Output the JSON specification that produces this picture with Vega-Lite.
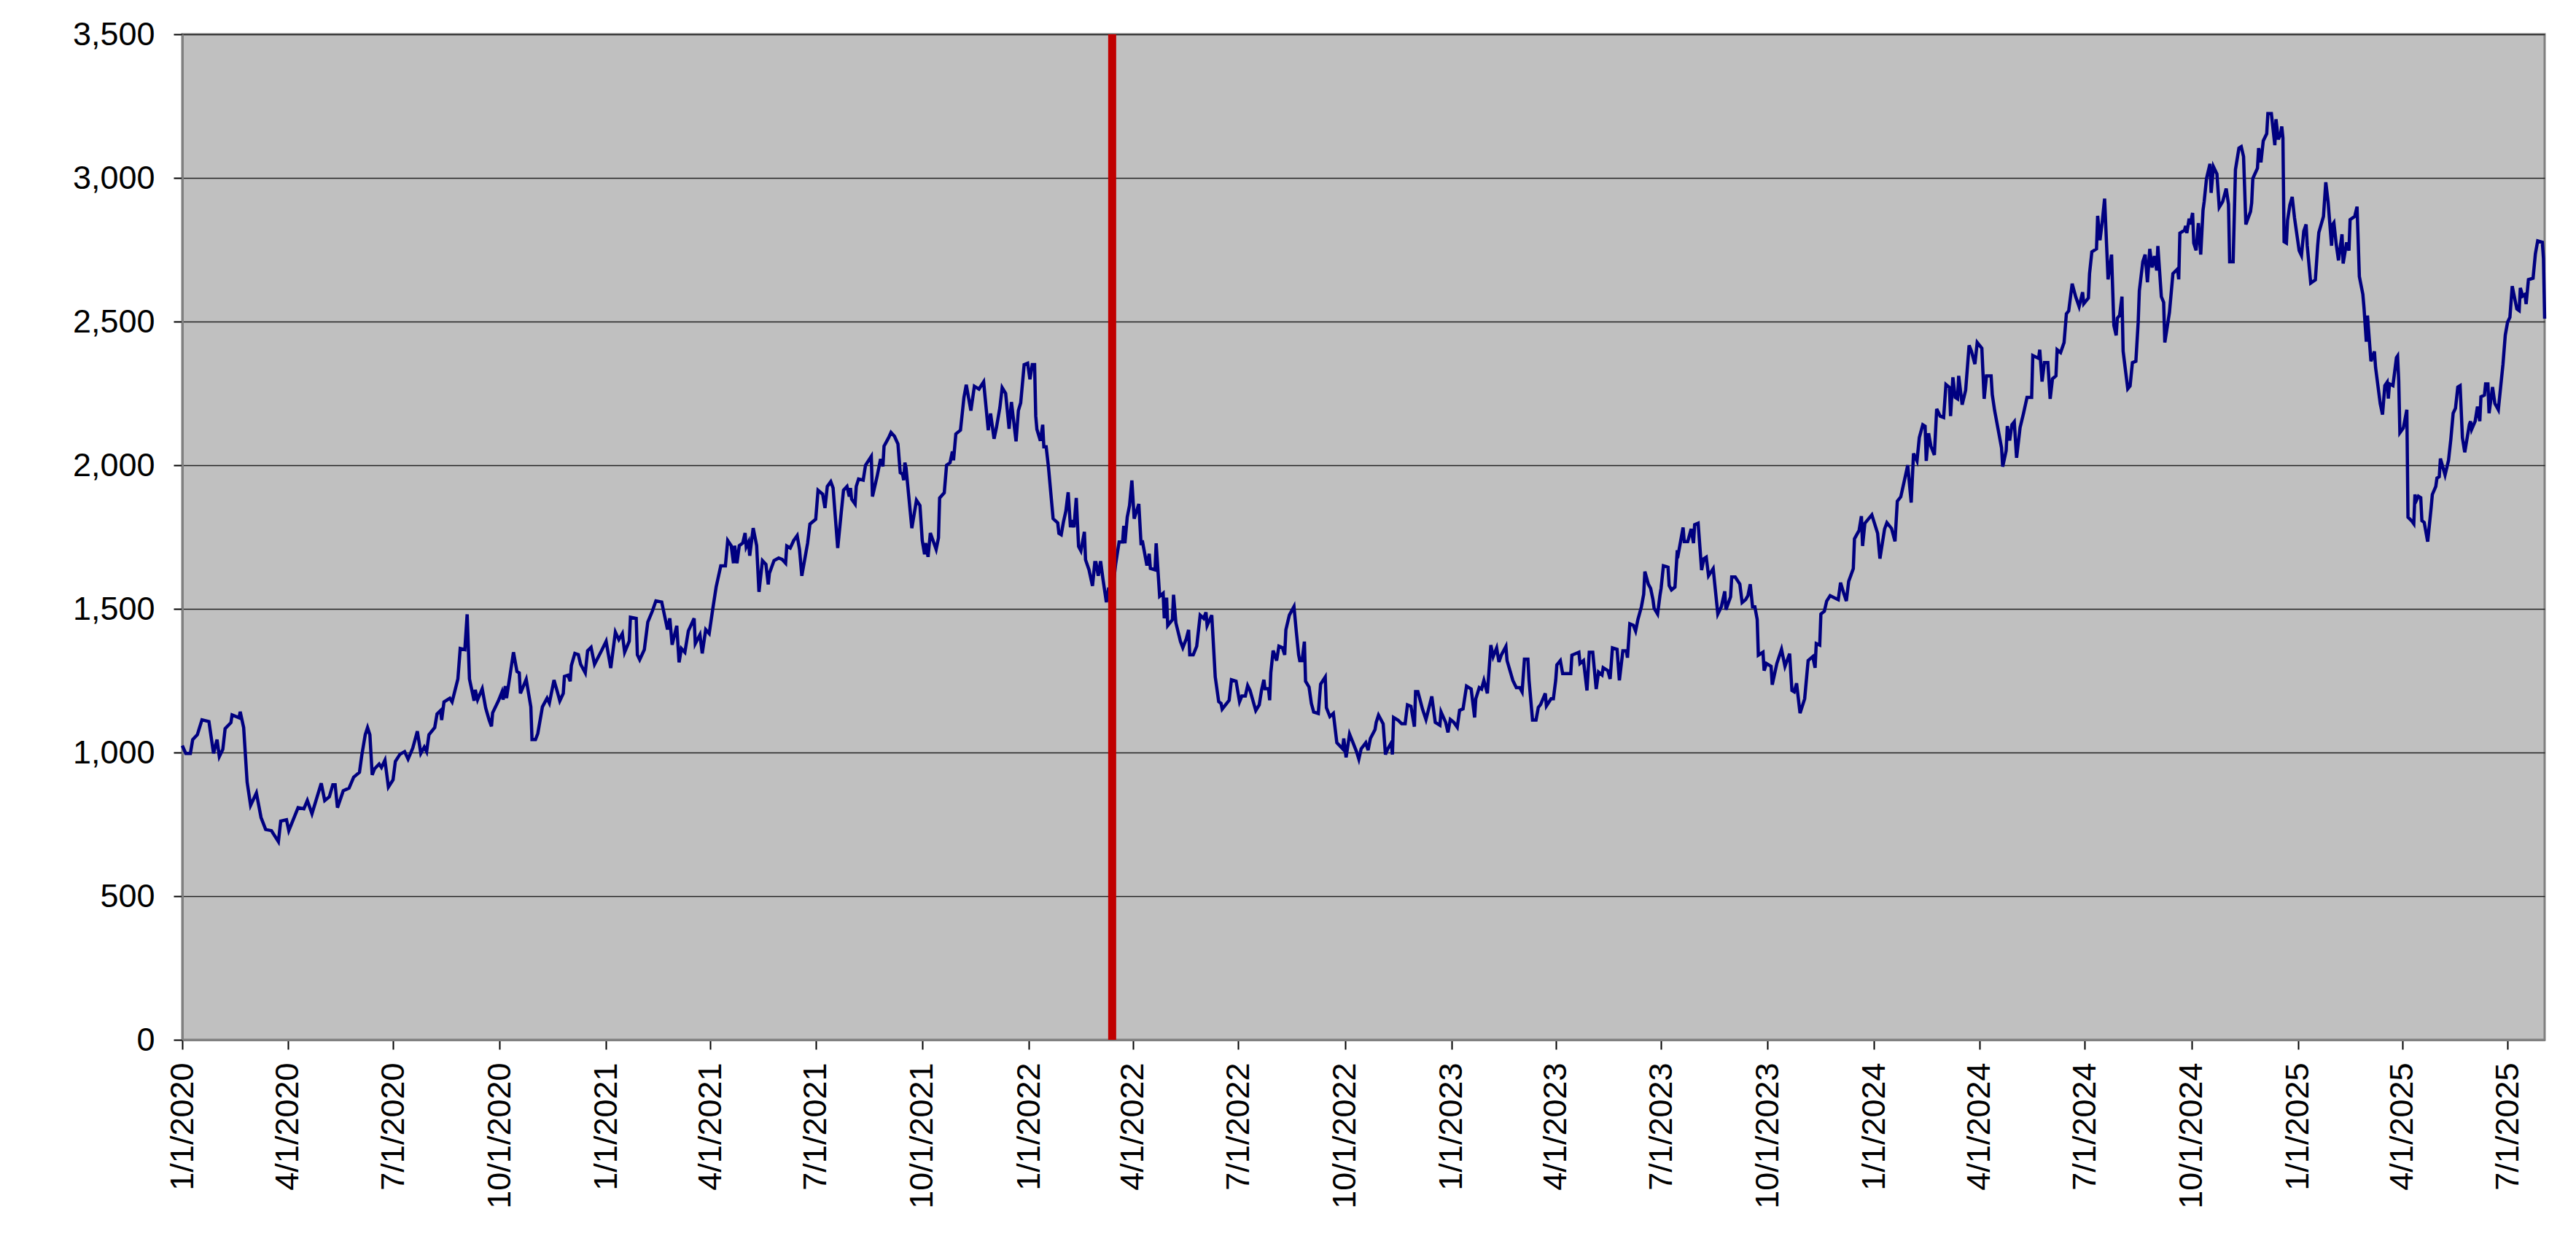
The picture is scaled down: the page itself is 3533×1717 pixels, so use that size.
{
  "$schema": "https://vega.github.io/schema/vega-lite/v6.json",
  "autosize": "none",
  "padding": {"left": 250, "top": 47, "right": 43, "bottom": 291},
  "width": 3240,
  "height": 1379,
  "background": "white",
  "config": {
    "view": {"fill": "#C0C0C0", "stroke": "#808080", "strokeWidth": 3},
    "font": "Liberation Sans"
  },
  "layer": [
    {
      "data": {"values": [
        {"date":"2020-01-01","value":1024},{"date":"2020-01-04","value":997},{"date":"2020-01-08","value":997},{"date":"2020-01-10","value":1045},{"date":"2020-01-14","value":1062},{"date":"2020-01-18","value":1114},{"date":"2020-01-24","value":1108},{"date":"2020-01-28","value":997},{"date":"2020-01-31","value":1045},
        {"date":"2020-02-02","value":986},{"date":"2020-02-05","value":1011},{"date":"2020-02-07","value":1083},{"date":"2020-02-12","value":1104},{"date":"2020-02-13","value":1131},{"date":"2020-02-19","value":1121},{"date":"2020-02-20","value":1142},{"date":"2020-02-23","value":1087},{"date":"2020-02-26","value":897},{"date":"2020-02-29","value":816},
        {"date":"2020-03-05","value":859},{"date":"2020-03-09","value":774},{"date":"2020-03-13","value":732},{"date":"2020-03-18","value":728},{"date":"2020-03-24","value":690},{"date":"2020-03-26","value":761},{"date":"2020-03-31","value":766},
        {"date":"2020-04-02","value":728},{"date":"2020-04-10","value":808},{"date":"2020-04-15","value":804},{"date":"2020-04-18","value":833},{"date":"2020-04-22","value":787},{"date":"2020-04-30","value":893},
        {"date":"2020-05-03","value":833},{"date":"2020-05-07","value":846},{"date":"2020-05-10","value":888},{"date":"2020-05-12","value":888},{"date":"2020-05-14","value":808},{"date":"2020-05-19","value":867},{"date":"2020-05-24","value":876},{"date":"2020-05-28","value":914},
        {"date":"2020-06-02","value":931},{"date":"2020-06-04","value":990},{"date":"2020-06-07","value":1062},{"date":"2020-06-09","value":1087},{"date":"2020-06-11","value":1062},{"date":"2020-06-13","value":922},{"date":"2020-06-15","value":943},{"date":"2020-06-19","value":960},{"date":"2020-06-21","value":948},{"date":"2020-06-24","value":973},{"date":"2020-06-27","value":880},
        {"date":"2020-07-01","value":905},{"date":"2020-07-03","value":969},{"date":"2020-07-07","value":994},{"date":"2020-07-11","value":1003},{"date":"2020-07-14","value":977},{"date":"2020-07-18","value":1015},{"date":"2020-07-22","value":1074},{"date":"2020-07-25","value":997},{"date":"2020-07-28","value":1019},{"date":"2020-07-30","value":1003},
        {"date":"2020-08-01","value":1062},{"date":"2020-08-06","value":1087},{"date":"2020-08-08","value":1134},{"date":"2020-08-11","value":1146},{"date":"2020-08-12","value":1113},{"date":"2020-08-14","value":1176},{"date":"2020-08-19","value":1189},{"date":"2020-08-21","value":1176},{"date":"2020-08-26","value":1256},{"date":"2020-08-28","value":1362},
        {"date":"2020-09-01","value":1358},{"date":"2020-09-03","value":1481},{"date":"2020-09-05","value":1256},{"date":"2020-09-09","value":1180},{"date":"2020-09-10","value":1218},{"date":"2020-09-12","value":1184},{"date":"2020-09-16","value":1222},{"date":"2020-09-19","value":1155},{"date":"2020-09-22","value":1113},{"date":"2020-09-24","value":1091},{"date":"2020-09-25","value":1138},{"date":"2020-09-30","value":1180},
        {"date":"2020-10-03","value":1210},{"date":"2020-10-04","value":1184},{"date":"2020-10-06","value":1231},{"date":"2020-10-07","value":1189},{"date":"2020-10-13","value":1349},{"date":"2020-10-16","value":1282},{"date":"2020-10-18","value":1277},{"date":"2020-10-19","value":1206},{"date":"2020-10-24","value":1255},{"date":"2020-10-28","value":1159},{"date":"2020-10-29","value":1045},
        {"date":"2020-11-01","value":1045},{"date":"2020-11-03","value":1066},{"date":"2020-11-07","value":1159},{"date":"2020-11-11","value":1189},{"date":"2020-11-13","value":1172},{"date":"2020-11-17","value":1252},{"date":"2020-11-20","value":1210},{"date":"2020-11-22","value":1180},{"date":"2020-11-25","value":1206},{"date":"2020-11-26","value":1265},{"date":"2020-11-29","value":1269},
        {"date":"2020-12-01","value":1248},{"date":"2020-12-02","value":1303},{"date":"2020-12-05","value":1345},{"date":"2020-12-08","value":1341},{"date":"2020-12-10","value":1307},{"date":"2020-12-14","value":1277},{"date":"2020-12-16","value":1354},{"date":"2020-12-19","value":1366},{"date":"2020-12-22","value":1307},{"date":"2020-12-28","value":1354},
        {"date":"2021-01-01","value":1387},{"date":"2021-01-05","value":1294},{"date":"2021-01-09","value":1419},{"date":"2021-01-12","value":1393},{"date":"2021-01-15","value":1414},{"date":"2021-01-17","value":1349},{"date":"2021-01-21","value":1388},{"date":"2021-01-22","value":1471},{"date":"2021-01-27","value":1467},{"date":"2021-01-28","value":1340},{"date":"2021-01-30","value":1323},
        {"date":"2021-02-03","value":1358},{"date":"2021-02-06","value":1454},{"date":"2021-02-10","value":1493},{"date":"2021-02-13","value":1528},{"date":"2021-02-18","value":1524},{"date":"2021-02-23","value":1428},{"date":"2021-02-25","value":1467},{"date":"2021-02-27","value":1375},
        {"date":"2021-03-03","value":1441},{"date":"2021-03-05","value":1314},{"date":"2021-03-07","value":1362},{"date":"2021-03-10","value":1349},{"date":"2021-03-13","value":1423},{"date":"2021-03-18","value":1467},{"date":"2021-03-19","value":1379},{"date":"2021-03-23","value":1410},{"date":"2021-03-25","value":1345},{"date":"2021-03-28","value":1428},{"date":"2021-03-31","value":1414},
        {"date":"2021-04-03","value":1497},{"date":"2021-04-06","value":1576},{"date":"2021-04-10","value":1650},{"date":"2021-04-14","value":1650},{"date":"2021-04-16","value":1738},{"date":"2021-04-19","value":1720},{"date":"2021-04-21","value":1659},{"date":"2021-04-22","value":1720},{"date":"2021-04-24","value":1659},{"date":"2021-04-26","value":1720},{"date":"2021-04-29","value":1729},
        {"date":"2021-05-01","value":1764},{"date":"2021-05-02","value":1716},{"date":"2021-05-04","value":1733},{"date":"2021-05-05","value":1685},{"date":"2021-05-08","value":1781},{"date":"2021-05-11","value":1720},{"date":"2021-05-13","value":1559},{"date":"2021-05-16","value":1668},{"date":"2021-05-19","value":1655},{"date":"2021-05-21","value":1585},{"date":"2021-05-22","value":1624},{"date":"2021-05-26","value":1668},{"date":"2021-05-30","value":1677},
        {"date":"2021-06-02","value":1672},{"date":"2021-06-05","value":1659},{"date":"2021-06-06","value":1719},{"date":"2021-06-09","value":1712},{"date":"2021-06-12","value":1738},{"date":"2021-06-15","value":1755},{"date":"2021-06-17","value":1707},{"date":"2021-06-19","value":1615},{"date":"2021-06-24","value":1729},{"date":"2021-06-26","value":1795},
        {"date":"2021-07-01","value":1812},{"date":"2021-07-03","value":1913},{"date":"2021-07-07","value":1899},{"date":"2021-07-09","value":1851},{"date":"2021-07-11","value":1926},{"date":"2021-07-14","value":1943},{"date":"2021-07-16","value":1921},{"date":"2021-07-20","value":1712},{"date":"2021-07-23","value":1834},{"date":"2021-07-25","value":1913},{"date":"2021-07-28","value":1926},{"date":"2021-07-30","value":1891},{"date":"2021-07-31","value":1921},
        {"date":"2021-08-01","value":1882},{"date":"2021-08-04","value":1865},{"date":"2021-08-05","value":1926},{"date":"2021-08-07","value":1952},{"date":"2021-08-11","value":1948},{"date":"2021-08-13","value":2000},{"date":"2021-08-18","value":2031},{"date":"2021-08-19","value":1891},{"date":"2021-08-23","value":1961},{"date":"2021-08-26","value":2022},{"date":"2021-08-28","value":1996},{"date":"2021-08-29","value":2066},
        {"date":"2021-09-02","value":2096},{"date":"2021-09-04","value":2114},{"date":"2021-09-07","value":2101},{"date":"2021-09-10","value":2074},{"date":"2021-09-12","value":1974},{"date":"2021-09-14","value":1969},{"date":"2021-09-15","value":1948},{"date":"2021-09-16","value":2009},{"date":"2021-09-17","value":1991},{"date":"2021-09-22","value":1781},{"date":"2021-09-26","value":1878},{"date":"2021-09-29","value":1860},
        {"date":"2021-10-01","value":1738},{"date":"2021-10-03","value":1690},{"date":"2021-10-04","value":1729},{"date":"2021-10-06","value":1681},{"date":"2021-10-08","value":1764},{"date":"2021-10-13","value":1707},{"date":"2021-10-15","value":1747},{"date":"2021-10-16","value":1886},{"date":"2021-10-20","value":1904},{"date":"2021-10-22","value":2000},{"date":"2021-10-25","value":2009},{"date":"2021-10-27","value":2048},{"date":"2021-10-28","value":2017},{"date":"2021-10-30","value":2109},
        {"date":"2021-11-03","value":2122},{"date":"2021-11-06","value":2236},{"date":"2021-11-08","value":2280},{"date":"2021-11-12","value":2190},{"date":"2021-11-15","value":2275},{"date":"2021-11-19","value":2265},{"date":"2021-11-23","value":2290},{"date":"2021-11-27","value":2122},{"date":"2021-11-29","value":2180},
        {"date":"2021-12-02","value":2092},{"date":"2021-12-04","value":2130},{"date":"2021-12-07","value":2200},{"date":"2021-12-09","value":2270},{"date":"2021-12-12","value":2250},{"date":"2021-12-15","value":2127},{"date":"2021-12-17","value":2220},{"date":"2021-12-21","value":2083},{"date":"2021-12-23","value":2190},{"date":"2021-12-25","value":2217},{"date":"2021-12-28","value":2350},{"date":"2021-12-31","value":2355},
        {"date":"2022-01-02","value":2299},{"date":"2022-01-04","value":2350},{"date":"2022-01-06","value":2350},{"date":"2022-01-07","value":2171},{"date":"2022-01-08","value":2125},{"date":"2022-01-11","value":2085},{"date":"2022-01-13","value":2141},{"date":"2022-01-14","value":2064},{"date":"2022-01-16","value":2064},{"date":"2022-01-18","value":1993},{"date":"2022-01-22","value":1814},{"date":"2022-01-26","value":1799},{"date":"2022-01-27","value":1763},{"date":"2022-01-29","value":1758},{"date":"2022-01-31","value":1804},
        {"date":"2022-02-02","value":1840},{"date":"2022-02-04","value":1906},{"date":"2022-02-06","value":1784},{"date":"2022-02-07","value":1809},{"date":"2022-02-09","value":1784},{"date":"2022-02-11","value":1886},{"date":"2022-02-13","value":1717},{"date":"2022-02-15","value":1702},{"date":"2022-02-18","value":1768},{"date":"2022-02-19","value":1671},{"date":"2022-02-22","value":1636},{"date":"2022-02-25","value":1580},{"date":"2022-02-27","value":1661},{"date":"2022-02-28","value":1661},
        {"date":"2022-03-02","value":1615},{"date":"2022-03-04","value":1666},{"date":"2022-03-06","value":1605},{"date":"2022-03-09","value":1523},{"date":"2022-03-11","value":1574},{"date":"2022-03-13","value":1515},{"date":"2022-03-17","value":1656},{"date":"2022-03-20","value":1733},{"date":"2022-03-23","value":1733},{"date":"2022-03-24","value":1789},{"date":"2022-03-25","value":1728},{"date":"2022-03-27","value":1819},{"date":"2022-03-29","value":1860},{"date":"2022-03-31","value":1947},
        {"date":"2022-04-02","value":1814},{"date":"2022-04-06","value":1865},{"date":"2022-04-08","value":1722},{"date":"2022-04-09","value":1738},{"date":"2022-04-13","value":1651},{"date":"2022-04-15","value":1692},{"date":"2022-04-16","value":1641},{"date":"2022-04-20","value":1636},{"date":"2022-04-21","value":1728},{"date":"2022-04-24","value":1544},{"date":"2022-04-27","value":1554},{"date":"2022-04-28","value":1467},{"date":"2022-04-30","value":1539},
        {"date":"2022-05-01","value":1442},{"date":"2022-05-05","value":1462},{"date":"2022-05-06","value":1549},{"date":"2022-05-08","value":1452},{"date":"2022-05-12","value":1386},{"date":"2022-05-14","value":1365},{"date":"2022-05-17","value":1396},{"date":"2022-05-19","value":1427},{"date":"2022-05-20","value":1340},{"date":"2022-05-23","value":1340},{"date":"2022-05-26","value":1370},{"date":"2022-05-29","value":1478},
        {"date":"2022-06-01","value":1467},{"date":"2022-06-03","value":1488},{"date":"2022-06-04","value":1442},{"date":"2022-06-08","value":1478},{"date":"2022-06-11","value":1263},{"date":"2022-06-14","value":1177},{"date":"2022-06-16","value":1171},{"date":"2022-06-17","value":1151},{"date":"2022-06-23","value":1182},{"date":"2022-06-25","value":1253},{"date":"2022-06-29","value":1248},
        {"date":"2022-07-02","value":1177},{"date":"2022-07-04","value":1197},{"date":"2022-07-07","value":1197},{"date":"2022-07-09","value":1233},{"date":"2022-07-11","value":1217},{"date":"2022-07-16","value":1146},{"date":"2022-07-19","value":1166},{"date":"2022-07-21","value":1217},{"date":"2022-07-23","value":1253},{"date":"2022-07-24","value":1222},{"date":"2022-07-27","value":1222},{"date":"2022-07-28","value":1182},{"date":"2022-07-29","value":1278},{"date":"2022-07-31","value":1355},
        {"date":"2022-08-03","value":1320},{"date":"2022-08-05","value":1370},{"date":"2022-08-08","value":1365},{"date":"2022-08-10","value":1340},{"date":"2022-08-11","value":1427},{"date":"2022-08-14","value":1478},{"date":"2022-08-18","value":1508},{"date":"2022-08-20","value":1421},{"date":"2022-08-22","value":1340},{"date":"2022-08-23","value":1320},{"date":"2022-08-25","value":1320},{"date":"2022-08-27","value":1386},{"date":"2022-08-28","value":1248},{"date":"2022-08-31","value":1228},
        {"date":"2022-09-02","value":1171},{"date":"2022-09-04","value":1141},{"date":"2022-09-08","value":1136},{"date":"2022-09-10","value":1238},{"date":"2022-09-14","value":1263},{"date":"2022-09-15","value":1156},{"date":"2022-09-18","value":1125},{"date":"2022-09-21","value":1136},{"date":"2022-09-24","value":1034},{"date":"2022-09-29","value":1013},{"date":"2022-09-30","value":1049},
        {"date":"2022-10-02","value":983},{"date":"2022-10-05","value":1064},{"date":"2022-10-08","value":1034},{"date":"2022-10-11","value":1003},{"date":"2022-10-13","value":977},{"date":"2022-10-15","value":1013},{"date":"2022-10-19","value":1034},{"date":"2022-10-21","value":1008},{"date":"2022-10-23","value":1049},{"date":"2022-10-27","value":1080},{"date":"2022-10-28","value":1105},{"date":"2022-10-30","value":1130},
        {"date":"2022-11-03","value":1100},{"date":"2022-11-05","value":993},{"date":"2022-11-07","value":1013},{"date":"2022-11-10","value":1034},{"date":"2022-11-11","value":993},{"date":"2022-11-12","value":1122},{"date":"2022-11-16","value":1112},{"date":"2022-11-19","value":1100},{"date":"2022-11-22","value":1100},{"date":"2022-11-24","value":1166},{"date":"2022-11-27","value":1161},{"date":"2022-11-30","value":1090},
        {"date":"2022-12-01","value":1212},{"date":"2022-12-03","value":1212},{"date":"2022-12-07","value":1151},{"date":"2022-12-10","value":1115},{"date":"2022-12-15","value":1195},{"date":"2022-12-18","value":1105},{"date":"2022-12-22","value":1095},{"date":"2022-12-23","value":1141},{"date":"2022-12-27","value":1105},{"date":"2022-12-29","value":1070},{"date":"2022-12-31","value":1115},
        {"date":"2023-01-03","value":1105},{"date":"2023-01-06","value":1088},{"date":"2023-01-08","value":1147},{"date":"2023-01-11","value":1152},{"date":"2023-01-14","value":1231},{"date":"2023-01-18","value":1221},{"date":"2023-01-21","value":1122},{"date":"2023-01-22","value":1187},{"date":"2023-01-25","value":1226},{"date":"2023-01-27","value":1221},{"date":"2023-01-29","value":1251},
        {"date":"2023-02-01","value":1206},{"date":"2023-02-04","value":1374},{"date":"2023-02-06","value":1334},{"date":"2023-02-09","value":1364},{"date":"2023-02-11","value":1315},{"date":"2023-02-13","value":1339},{"date":"2023-02-17","value":1369},{"date":"2023-02-18","value":1320},{"date":"2023-02-23","value":1251},{"date":"2023-02-26","value":1226},
        {"date":"2023-03-01","value":1226},{"date":"2023-03-03","value":1211},{"date":"2023-03-05","value":1325},{"date":"2023-03-08","value":1325},{"date":"2023-03-09","value":1251},{"date":"2023-03-12","value":1113},{"date":"2023-03-15","value":1113},{"date":"2023-03-17","value":1157},{"date":"2023-03-19","value":1167},{"date":"2023-03-23","value":1206},{"date":"2023-03-24","value":1162},{"date":"2023-03-28","value":1187},{"date":"2023-03-30","value":1187},
        {"date":"2023-04-01","value":1251},{"date":"2023-04-02","value":1305},{"date":"2023-04-05","value":1320},{"date":"2023-04-07","value":1275},{"date":"2023-04-12","value":1275},{"date":"2023-04-14","value":1275},{"date":"2023-04-15","value":1339},{"date":"2023-04-18","value":1344},{"date":"2023-04-21","value":1349},{"date":"2023-04-22","value":1310},{"date":"2023-04-25","value":1320},{"date":"2023-04-28","value":1216},{"date":"2023-04-30","value":1349},
        {"date":"2023-05-03","value":1349},{"date":"2023-05-06","value":1221},{"date":"2023-05-08","value":1280},{"date":"2023-05-11","value":1270},{"date":"2023-05-12","value":1295},{"date":"2023-05-16","value":1285},{"date":"2023-05-18","value":1256},{"date":"2023-05-20","value":1364},{"date":"2023-05-24","value":1359},{"date":"2023-05-26","value":1251},{"date":"2023-05-29","value":1354},
        {"date":"2023-06-01","value":1354},{"date":"2023-06-02","value":1330},{"date":"2023-06-04","value":1448},{"date":"2023-06-07","value":1443},{"date":"2023-06-09","value":1423},{"date":"2023-06-11","value":1463},{"date":"2023-06-14","value":1507},{"date":"2023-06-16","value":1551},{"date":"2023-06-17","value":1630},{"date":"2023-06-20","value":1586},{"date":"2023-06-22","value":1571},{"date":"2023-06-24","value":1532},{"date":"2023-06-25","value":1502},{"date":"2023-06-28","value":1482},{"date":"2023-06-30","value":1546},
        {"date":"2023-07-01","value":1571},{"date":"2023-07-03","value":1650},{"date":"2023-07-07","value":1645},{"date":"2023-07-08","value":1581},{"date":"2023-07-10","value":1566},{"date":"2023-07-13","value":1576},{"date":"2023-07-15","value":1704},{"date":"2023-07-16","value":1694},{"date":"2023-07-20","value":1783},{"date":"2023-07-21","value":1734},{"date":"2023-07-24","value":1734},{"date":"2023-07-27","value":1778},{"date":"2023-07-29","value":1729},{"date":"2023-07-30","value":1793},
        {"date":"2023-08-02","value":1798},{"date":"2023-08-05","value":1635},{"date":"2023-08-07","value":1675},{"date":"2023-08-09","value":1680},{"date":"2023-08-11","value":1615},{"date":"2023-08-15","value":1640},{"date":"2023-08-19","value":1482},{"date":"2023-08-22","value":1507},{"date":"2023-08-25","value":1561},{"date":"2023-08-26","value":1497},{"date":"2023-08-30","value":1542},{"date":"2023-08-31","value":1611},
        {"date":"2023-09-03","value":1611},{"date":"2023-09-07","value":1586},{"date":"2023-09-09","value":1522},{"date":"2023-09-12","value":1532},{"date":"2023-09-14","value":1546},{"date":"2023-09-16","value":1586},{"date":"2023-09-18","value":1507},{"date":"2023-09-20","value":1507},{"date":"2023-09-22","value":1463},{"date":"2023-09-23","value":1339},{"date":"2023-09-27","value":1349},{"date":"2023-09-28","value":1285},{"date":"2023-09-30","value":1310},
        {"date":"2023-10-04","value":1300},{"date":"2023-10-05","value":1236},{"date":"2023-10-09","value":1310},{"date":"2023-10-13","value":1359},{"date":"2023-10-16","value":1300},{"date":"2023-10-20","value":1344},{"date":"2023-10-22","value":1216},{"date":"2023-10-24","value":1211},{"date":"2023-10-26","value":1241},{"date":"2023-10-29","value":1137},
        {"date":"2023-11-02","value":1187},{"date":"2023-11-05","value":1320},{"date":"2023-11-09","value":1334},{"date":"2023-11-11","value":1295},{"date":"2023-11-12","value":1379},{"date":"2023-11-15","value":1374},{"date":"2023-11-16","value":1482},{"date":"2023-11-19","value":1492},{"date":"2023-11-21","value":1527},{"date":"2023-11-24","value":1546},
        {"date":"2023-12-01","value":1532},{"date":"2023-12-03","value":1591},{"date":"2023-12-06","value":1551},{"date":"2023-12-08","value":1527},{"date":"2023-12-10","value":1596},{"date":"2023-12-14","value":1640},{"date":"2023-12-15","value":1744},{"date":"2023-12-19","value":1773},{"date":"2023-12-21","value":1823},{"date":"2023-12-22","value":1719},{"date":"2023-12-24","value":1798},{"date":"2023-12-30","value":1827},
        {"date":"2024-01-04","value":1763},{"date":"2024-01-06","value":1675},{"date":"2024-01-10","value":1778},{"date":"2024-01-12","value":1800},{"date":"2024-01-16","value":1780},{"date":"2024-01-19","value":1735},{"date":"2024-01-21","value":1875},{"date":"2024-01-24","value":1890},{"date":"2024-01-27","value":1945},{"date":"2024-01-30","value":2000},
        {"date":"2024-02-02","value":1870},{"date":"2024-02-04","value":2041},{"date":"2024-02-07","value":2015},{"date":"2024-02-09","value":2096},{"date":"2024-02-12","value":2141},{"date":"2024-02-14","value":2136},{"date":"2024-02-15","value":2015},{"date":"2024-02-17","value":2111},{"date":"2024-02-19","value":2066},{"date":"2024-02-22","value":2036},{"date":"2024-02-24","value":2196},{"date":"2024-02-27","value":2171},
        {"date":"2024-03-01","value":2166},{"date":"2024-03-03","value":2281},{"date":"2024-03-06","value":2271},{"date":"2024-03-07","value":2171},{"date":"2024-03-09","value":2306},{"date":"2024-03-11","value":2236},{"date":"2024-03-13","value":2231},{"date":"2024-03-14","value":2311},{"date":"2024-03-17","value":2211},{"date":"2024-03-20","value":2261},{"date":"2024-03-23","value":2417},{"date":"2024-03-25","value":2397},{"date":"2024-03-28","value":2352},{"date":"2024-03-30","value":2427},
        {"date":"2024-04-03","value":2407},{"date":"2024-04-05","value":2231},{"date":"2024-04-07","value":2311},{"date":"2024-04-11","value":2311},{"date":"2024-04-12","value":2246},{"date":"2024-04-14","value":2191},{"date":"2024-04-17","value":2126},{"date":"2024-04-20","value":2061},{"date":"2024-04-21","value":1995},{"date":"2024-04-24","value":2051},{"date":"2024-04-25","value":2136},{"date":"2024-04-27","value":2086},{"date":"2024-04-29","value":2141},
        {"date":"2024-05-01","value":2151},{"date":"2024-05-03","value":2026},{"date":"2024-05-06","value":2131},{"date":"2024-05-09","value":2181},{"date":"2024-05-12","value":2236},{"date":"2024-05-16","value":2236},{"date":"2024-05-17","value":2382},{"date":"2024-05-22","value":2372},{"date":"2024-05-23","value":2402},{"date":"2024-05-25","value":2291},{"date":"2024-05-27","value":2357},{"date":"2024-05-30","value":2357},
        {"date":"2024-06-01","value":2231},{"date":"2024-06-03","value":2301},{"date":"2024-06-06","value":2311},{"date":"2024-06-07","value":2402},{"date":"2024-06-10","value":2392},{"date":"2024-06-13","value":2427},{"date":"2024-06-15","value":2527},{"date":"2024-06-17","value":2537},{"date":"2024-06-20","value":2632},{"date":"2024-06-23","value":2587},{"date":"2024-06-26","value":2552},{"date":"2024-06-29","value":2602},{"date":"2024-06-30","value":2562},
        {"date":"2024-07-04","value":2582},{"date":"2024-07-05","value":2667},{"date":"2024-07-07","value":2743},{"date":"2024-07-11","value":2753},{"date":"2024-07-12","value":2868},{"date":"2024-07-14","value":2783},{"date":"2024-07-16","value":2848},{"date":"2024-07-18","value":2928},{"date":"2024-07-21","value":2647},{"date":"2024-07-24","value":2733},{"date":"2024-07-26","value":2487},{"date":"2024-07-28","value":2452},{"date":"2024-07-29","value":2512},{"date":"2024-07-31","value":2522},
        {"date":"2024-08-02","value":2587},{"date":"2024-08-03","value":2397},{"date":"2024-08-07","value":2266},{"date":"2024-08-09","value":2276},{"date":"2024-08-11","value":2357},{"date":"2024-08-14","value":2362},{"date":"2024-08-16","value":2497},{"date":"2024-08-17","value":2607},{"date":"2024-08-20","value":2708},{"date":"2024-08-22","value":2733},{"date":"2024-08-24","value":2637},{"date":"2024-08-26","value":2753},{"date":"2024-08-28","value":2688},{"date":"2024-08-30","value":2728},
        {"date":"2024-09-01","value":2678},{"date":"2024-09-02","value":2763},{"date":"2024-09-05","value":2587},{"date":"2024-09-07","value":2567},{"date":"2024-09-08","value":2427},{"date":"2024-09-12","value":2532},{"date":"2024-09-15","value":2667},{"date":"2024-09-19","value":2683},{"date":"2024-09-20","value":2647},{"date":"2024-09-21","value":2808},{"date":"2024-09-25","value":2818},{"date":"2024-09-26","value":2833},{"date":"2024-09-27","value":2808},{"date":"2024-09-29","value":2858},{"date":"2024-09-30","value":2838},
        {"date":"2024-10-02","value":2878},{"date":"2024-10-03","value":2773},{"date":"2024-10-05","value":2748},{"date":"2024-10-07","value":2843},{"date":"2024-10-09","value":2733},{"date":"2024-10-11","value":2888},{"date":"2024-10-12","value":2918},{"date":"2024-10-14","value":2998},{"date":"2024-10-17","value":3049},{"date":"2024-10-18","value":2948},{"date":"2024-10-20","value":3039},{"date":"2024-10-23","value":3014},{"date":"2024-10-25","value":2898},{"date":"2024-10-28","value":2918},{"date":"2024-10-31","value":2963},
        {"date":"2024-11-02","value":2908},{"date":"2024-11-03","value":2708},{"date":"2024-11-06","value":2708},{"date":"2024-11-08","value":3029},{"date":"2024-11-11","value":3104},{"date":"2024-11-13","value":3109},{"date":"2024-11-15","value":3074},{"date":"2024-11-17","value":2838},{"date":"2024-11-21","value":2883},{"date":"2024-11-22","value":2913},{"date":"2024-11-23","value":2998},{"date":"2024-11-27","value":3034},{"date":"2024-11-28","value":3104},{"date":"2024-11-30","value":3054},
        {"date":"2024-12-02","value":3129},{"date":"2024-12-05","value":3154},{"date":"2024-12-06","value":3224},{"date":"2024-12-09","value":3224},{"date":"2024-12-12","value":3114},{"date":"2024-12-13","value":3204},{"date":"2024-12-15","value":3134},{"date":"2024-12-17","value":3154},{"date":"2024-12-18","value":3179},{"date":"2024-12-19","value":3139},{"date":"2024-12-20","value":2778},{"date":"2024-12-22","value":2773},{"date":"2024-12-23","value":2853},{"date":"2024-12-25","value":2906},{"date":"2024-12-27","value":2934},{"date":"2024-12-29","value":2861},
        {"date":"2025-01-02","value":2747},{"date":"2025-01-04","value":2730},{"date":"2025-01-06","value":2815},{"date":"2025-01-08","value":2838},{"date":"2025-01-09","value":2764},{"date":"2025-01-12","value":2634},{"date":"2025-01-16","value":2645},{"date":"2025-01-18","value":2764},{"date":"2025-01-19","value":2810},{"date":"2025-01-23","value":2866},{"date":"2025-01-25","value":2985},{"date":"2025-01-27","value":2917},{"date":"2025-01-30","value":2764},{"date":"2025-01-31","value":2838},
        {"date":"2025-02-01","value":2844},{"date":"2025-02-03","value":2770},{"date":"2025-02-05","value":2713},{"date":"2025-02-08","value":2804},{"date":"2025-02-09","value":2702},{"date":"2025-02-12","value":2776},{"date":"2025-02-14","value":2747},{"date":"2025-02-15","value":2855},{"date":"2025-02-19","value":2866},{"date":"2025-02-21","value":2900},{"date":"2025-02-23","value":2657},{"date":"2025-02-26","value":2595},{"date":"2025-02-27","value":2549},
        {"date":"2025-03-01","value":2430},{"date":"2025-03-02","value":2521},{"date":"2025-03-05","value":2362},{"date":"2025-03-08","value":2396},{"date":"2025-03-09","value":2340},{"date":"2025-03-13","value":2215},{"date":"2025-03-15","value":2176},{"date":"2025-03-17","value":2277},{"date":"2025-03-19","value":2289},{"date":"2025-03-20","value":2232},{"date":"2025-03-21","value":2283},{"date":"2025-03-24","value":2277},{"date":"2025-03-27","value":2374},{"date":"2025-03-28","value":2380},{"date":"2025-03-29","value":2294},{"date":"2025-03-30","value":2113},
        {"date":"2025-04-02","value":2130},{"date":"2025-04-05","value":2193},{"date":"2025-04-06","value":1819},{"date":"2025-04-09","value":1807},{"date":"2025-04-11","value":1796},{"date":"2025-04-12","value":1898},{"date":"2025-04-13","value":1875},{"date":"2025-04-15","value":1892},{"date":"2025-04-17","value":1887},{"date":"2025-04-18","value":1807},{"date":"2025-04-20","value":1801},{"date":"2025-04-23","value":1734},{"date":"2025-04-26","value":1853},{"date":"2025-04-27","value":1898},{"date":"2025-04-30","value":1926},
        {"date":"2025-05-01","value":1955},{"date":"2025-05-03","value":1960},{"date":"2025-05-04","value":2023},{"date":"2025-05-08","value":1966},{"date":"2025-05-11","value":2017},{"date":"2025-05-13","value":2091},{"date":"2025-05-15","value":2181},{"date":"2025-05-17","value":2198},{"date":"2025-05-19","value":2272},{"date":"2025-05-21","value":2277},{"date":"2025-05-23","value":2096},{"date":"2025-05-25","value":2045},{"date":"2025-05-29","value":2142},{"date":"2025-05-30","value":2153},{"date":"2025-05-31","value":2125},
        {"date":"2025-06-03","value":2153},{"date":"2025-06-05","value":2204},{"date":"2025-06-07","value":2153},{"date":"2025-06-08","value":2238},{"date":"2025-06-11","value":2244},{"date":"2025-06-12","value":2283},{"date":"2025-06-14","value":2283},{"date":"2025-06-15","value":2181},{"date":"2025-06-18","value":2272},{"date":"2025-06-20","value":2215},{"date":"2025-06-23","value":2193},{"date":"2025-06-25","value":2272},{"date":"2025-06-27","value":2351},{"date":"2025-06-29","value":2453},
        {"date":"2025-07-01","value":2498},{"date":"2025-07-03","value":2515},{"date":"2025-07-05","value":2623},{"date":"2025-07-09","value":2544},{"date":"2025-07-11","value":2538},{"date":"2025-07-12","value":2617},{"date":"2025-07-14","value":2589},{"date":"2025-07-16","value":2595},{"date":"2025-07-17","value":2561},{"date":"2025-07-19","value":2646},{"date":"2025-07-23","value":2651},{"date":"2025-07-25","value":2736},{"date":"2025-07-27","value":2781},{"date":"2025-07-31","value":2776},
        {"date":"2025-08-01","value":2719},{"date":"2025-08-02","value":2510}
      ]},
      "mark": {"type": "line", "color": "#000080", "strokeWidth": 4.5, "interpolate": "linear"},
      "encoding": {
        "x": {
          "field": "date",
          "type": "temporal",
          "scale": {
            "type": "utc",
            "domain": [
              {"year": 2020, "month": 1, "date": 1, "utc": true},
              {"year": 2025, "month": 8, "date": 2, "utc": true}
            ]
          },
          "axis": {
            "title": null,
            "grid": false,
            "values": [
              {"year": 2020, "month": 1, "date": 1, "utc": true},
              {"year": 2020, "month": 4, "date": 1, "utc": true},
              {"year": 2020, "month": 7, "date": 1, "utc": true},
              {"year": 2020, "month": 10, "date": 1, "utc": true},
              {"year": 2021, "month": 1, "date": 1, "utc": true},
              {"year": 2021, "month": 4, "date": 1, "utc": true},
              {"year": 2021, "month": 7, "date": 1, "utc": true},
              {"year": 2021, "month": 10, "date": 1, "utc": true},
              {"year": 2022, "month": 1, "date": 1, "utc": true},
              {"year": 2022, "month": 4, "date": 1, "utc": true},
              {"year": 2022, "month": 7, "date": 1, "utc": true},
              {"year": 2022, "month": 10, "date": 1, "utc": true},
              {"year": 2023, "month": 1, "date": 1, "utc": true},
              {"year": 2023, "month": 4, "date": 1, "utc": true},
              {"year": 2023, "month": 7, "date": 1, "utc": true},
              {"year": 2023, "month": 10, "date": 1, "utc": true},
              {"year": 2024, "month": 1, "date": 1, "utc": true},
              {"year": 2024, "month": 4, "date": 1, "utc": true},
              {"year": 2024, "month": 7, "date": 1, "utc": true},
              {"year": 2024, "month": 10, "date": 1, "utc": true},
              {"year": 2025, "month": 1, "date": 1, "utc": true},
              {"year": 2025, "month": 4, "date": 1, "utc": true},
              {"year": 2025, "month": 7, "date": 1, "utc": true}
            ],
            "labelExpr": "utcFormat(datum.value, '%-m/%-d/%Y')",
            "labelAngle": 270,
            "labelFontSize": 45,
            "labelColor": "#000000",
            "labelPadding": 18,
            "labelLimit": 0,
            "labelOverlap": false,
            "labelFlush": false,
            "labelBound": false,
            "tickSize": 13,
            "tickWidth": 2,
            "tickColor": "#000000",
            "domainColor": "#808080",
            "domainWidth": 3
          }
        },
        "y": {
          "field": "value",
          "type": "quantitative",
          "scale": {"domain": [0, 3500], "nice": false},
          "axis": {
            "title": null,
            "values": [0, 500, 1000, 1500, 2000, 2500, 3000, 3500],
            "format": ",d",
            "grid": true,
            "gridColor": "#222222",
            "gridWidth": 1.5,
            "gridOpacity": 1,
            "labelFontSize": 45,
            "labelColor": "#000000",
            "labelPadding": 26,
            "tickSize": 12,
            "tickWidth": 2,
            "tickColor": "#000000",
            "domainColor": "#808080",
            "domainWidth": 3
          }
        }
      }
    },
    {
      "data": {"values": [{"date": "2022-03-14"}]},
      "mark": {"type": "rule", "color": "#C00000", "strokeWidth": 11},
      "encoding": {
        "x": {"field": "date", "type": "temporal"}
      }
    }
  ]
}
